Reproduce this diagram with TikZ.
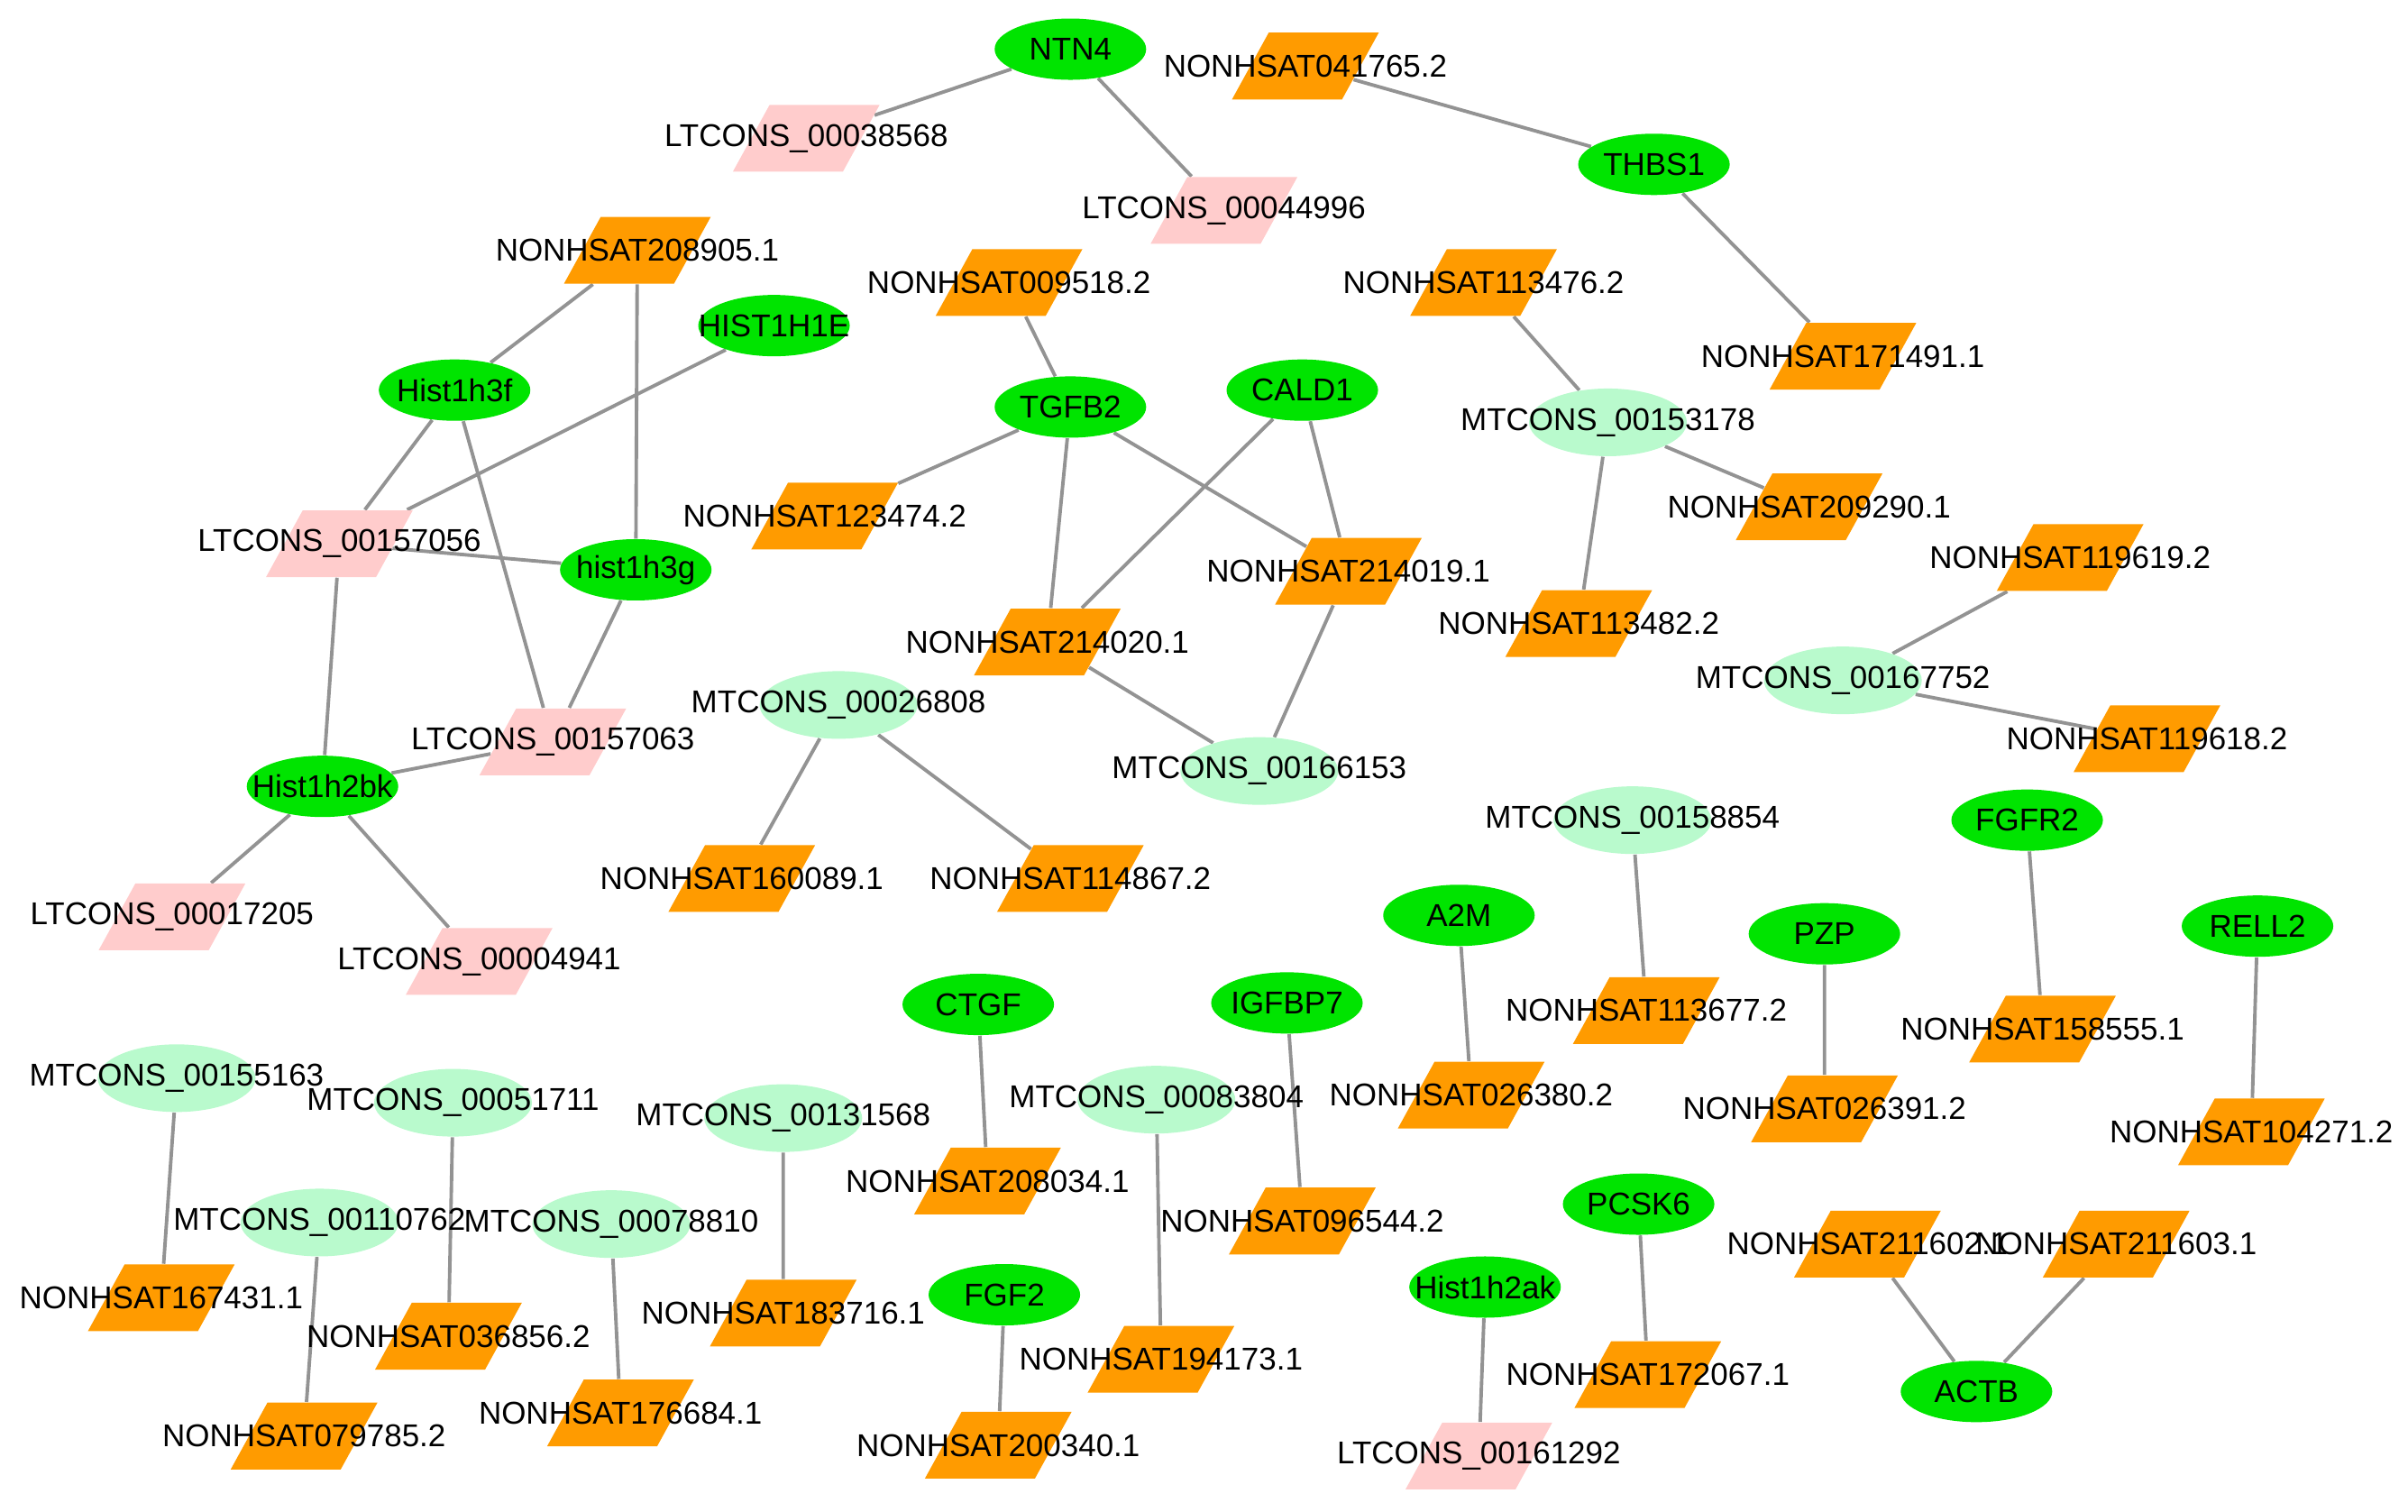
\documentclass[tikz,border=0pt]{standalone}
\usepackage{fontspec}
\setmainfont{Liberation Sans}
\usetikzlibrary{shapes.geometric,backgrounds}
\definecolor{gene}{RGB}{0,228,0}
\definecolor{mtc}{RGB}{185,250,205}
\definecolor{nonh}{RGB}{255,155,0}
\definecolor{ltc}{RGB}{255,204,204}
\tikzset{
  gn/.style={ellipse, fill=gene, minimum width=1.68cm, minimum height=0.68cm, inner sep=0pt, label={center:#1}},
  mt/.style={ellipse, fill=mtc, minimum width=1.75cm, minimum height=0.75cm, inner sep=0pt, label={center:#1}},
  para/.style={rectangle, xslant=0.55, minimum width=1.22cm, minimum height=0.74cm, inner sep=0pt,
    label={[xslant=0]center:#1}},
  ns/.style={para=#1, fill=nonh},
  lt/.style={para=#1, fill=ltc},
  edge/.style={draw=gray!85, line width=1.1pt}
}
\begin{document}
\begin{tikzpicture}[x=0.01703cm, y=-0.01703cm, every label/.style={font=\fontsize{9.95}{11}\selectfont, inner sep=0pt}]
			\useasboundingbox (0,0) rectangle (1568,984);
			% Genes
			\node[gn=NTN4] (ntn4) at (697,32) {};
			\node[gn=THBS1] (thbs1) at (1077,107) {};
			\node[gn=HIST1H1E] (h1e) at (504,212) {};
			\node[gn=Hist1h3f] (h3f) at (296,254) {};
			\node[gn=TGFB2] (tgfb2) at (697,265) {};
			\node[gn=CALD1] (cald1) at (848,254) {};
			\node[gn=hist1h3g] (h3g) at (414,371) {};
			\node[gn=Hist1h2bk] (h2bk) at (210,512) {};
			\node[gn=FGFR2] (fgfr2) at (1320,534) {};
			\node[gn=A2M] (a2m) at (950,596) {};
			\node[gn=PZP] (pzp) at (1188,608) {};
			\node[gn=RELL2] (rell2) at (1470,603) {};
			\node[gn=CTGF] (ctgf) at (637,654) {};
			\node[gn=IGFBP7] (igfbp7) at (838,653) {};
			\node[gn=PCSK6] (pcsk6) at (1067,784) {};
			\node[gn=FGF2] (fgf2) at (654,843) {};
			\node[gn=Hist1h2ak] (h2ak) at (967,838) {};
			\node[gn=ACTB] (actb) at (1287,906) {};
			% MTCONS
			\node[mt=MTCONS\_00153178] (m153178) at (1047,275) {};
			\node[mt=MTCONS\_00167752] (m167752) at (1200,443) {};
			\node[mt=MTCONS\_00026808] (m026808) at (546,459) {};
			\node[mt=MTCONS\_00166153] (m166153) at (820,502) {};
			\node[mt=MTCONS\_00158854] (m158854) at (1063,534) {};
			\node[mt=MTCONS\_00155163] (m155163) at (115,702) {};
			\node[mt=MTCONS\_00051711] (m051711) at (295,718) {};
			\node[mt=MTCONS\_00131568] (m131568) at (510,728) {};
			\node[mt=MTCONS\_00083804] (m083804) at (753,716) {};
			\node[mt=MTCONS\_00110762] (m110762) at (208,796) {};
			\node[mt=MTCONS\_00078810] (m078810) at (398,797) {};
			% LTCONS
			\node[lt=LTCONS\_00038568] (l038568) at (525,90) {};
			\node[lt=LTCONS\_00044996] (l044996) at (797,137) {};
			\node[lt=LTCONS\_00157056] (l157056) at (221,354) {};
			\node[lt=LTCONS\_00157063] (l157063) at (360,483) {};
			\node[lt=LTCONS\_00017205] (l017205) at (112,597) {};
			\node[lt=LTCONS\_00004941] (l004941) at (312,626) {};
			\node[lt=LTCONS\_00161292] (l161292) at (963,948) {};
			% NONHSAT
			\node[ns=NONHSAT041765.2] (n041765) at (850,43) {};
			\node[ns=NONHSAT208905.1] (n208905) at (415,163) {};
			\node[ns=NONHSAT009518.2] (n009518) at (657,184) {};
			\node[ns=NONHSAT113476.2] (n113476) at (966,184) {};
			\node[ns=NONHSAT171491.1] (n171491) at (1200,232) {};
			\node[ns=NONHSAT209290.1] (n209290) at (1178,330) {};
			\node[ns=NONHSAT123474.2] (n123474) at (537,336) {};
			\node[ns=NONHSAT214019.1] (n214019) at (878,372) {};
			\node[ns=NONHSAT119619.2] (n119619) at (1348,363) {};
			\node[ns=NONHSAT214020.1] (n214020) at (682,418) {};
			\node[ns=NONHSAT113482.2] (n113482) at (1028,406) {};
			\node[ns=NONHSAT119618.2] (n119618) at (1398,481) {};
			\node[ns=NONHSAT160089.1] (n160089) at (483,572) {};
			\node[ns=NONHSAT114867.2] (n114867) at (697,572) {};
			\node[ns=NONHSAT113677.2] (n113677) at (1072,658) {};
			\node[ns=NONHSAT158555.1] (n158555) at (1330,670) {};
			\node[ns=NONHSAT026380.2] (n026380) at (958,713) {};
			\node[ns=NONHSAT026391.2] (n026391) at (1188,722) {};
			\node[ns=NONHSAT104271.2] (n104271) at (1466,737) {};
			\node[ns=NONHSAT208034.1] (n208034) at (643,769) {};
			\node[ns=NONHSAT096544.2] (n096544) at (848,795) {};
			\node[ns=NONHSAT167431.1] (n167431) at (105,845) {};
			\node[ns=NONHSAT036856.2] (n036856) at (292,870) {};
			\node[ns=NONHSAT183716.1] (n183716) at (510,855) {};
			\node[ns=NONHSAT194173.1] (n194173) at (756,885) {};
			\node[ns=NONHSAT211602.1] (n211602) at (1216,810) {};
			\node[ns=NONHSAT211603.1] (n211603) at (1378,810) {};
			\node[ns=NONHSAT172067.1] (n172067) at (1073,895) {};
			\node[ns=NONHSAT079785.2] (n079785) at (198,935) {};
			\node[ns=NONHSAT176684.1] (n176684) at (404,920) {};
			\node[ns=NONHSAT200340.1] (n200340) at (650,941) {};
			% Edges
			\begin{scope}[on background layer]
			\foreach \a/\b in {ntn4/l038568, ntn4/l044996, n041765/thbs1, thbs1/n171491,
				n208905/h3f, n208905/h3g, h1e/l157056, h3f/l157056, h3f/l157063, l157056/h3g,
				l157056/h2bk, h3g/l157063, h2bk/l157063, h2bk/l017205, h2bk/l004941,
				n009518/tgfb2, tgfb2/n123474, tgfb2/n214020, tgfb2/n214019, cald1/n214020,
				cald1/n214019, n214020/m166153, n214019/m166153, n113476/m153178,
				m153178/n209290, m153178/n113482, m167752/n119619, m167752/n119618,
				m026808/n160089, m026808/n114867, m158854/n113677, fgfr2/n158555,
				a2m/n026380, pzp/n026391, rell2/n104271, ctgf/n208034, igfbp7/n096544,
				m155163/n167431, m051711/n036856, m131568/n183716, m083804/n194173,
				m110762/n079785, m078810/n176684, fgf2/n200340, h2ak/l161292,
				pcsk6/n172067, n211602/actb, n211603/actb}
				\draw[edge] (\a) -- (\b);
			\end{scope}
		\end{tikzpicture}
\end{document}
